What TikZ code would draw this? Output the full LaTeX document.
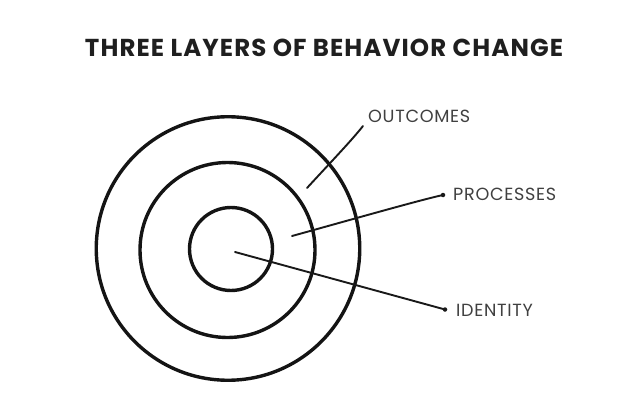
\documentclass[tikz,border=0pt]{standalone}
\usepackage{fontspec}
\setmainfont{Poppins}
\newfontfamily\titlefam{Poppins}[LetterSpace=4.5]
\newfontfamily\labelfam{Poppins}[LetterSpace=4]
\begin{document}
\begin{tikzpicture}[x=1pt,y=-1pt,
  ring/.style={circle,draw=black!92,line width=3.4pt,inner sep=0pt},
  leader/.style={draw=black!90,line width=1.9pt,line cap=round},
  enddot/.style={circle,fill=black!90,inner sep=0pt,minimum size=4.5pt},
  lbl/.style={anchor=base west,inner sep=0pt,text=black!75,font=\labelfam\fontsize{17.6}{17.6}\selectfont},
  ttl/.style={anchor=base,inner sep=0pt,text=black!88,font=\titlefam\bfseries\fontsize{24.5}{24.5}\selectfont}]
\useasboundingbox (0,0) rectangle (624,404);
\node[ttl] (title) at (324,57) {THREE LAYERS OF BEHAVIOR CHANGE};
\node[ring,minimum size=263.5pt] (outer) at (228,248.5) {};
\node[ring,minimum size=175pt] (middle) at (227.5,250) {};
\node[ring,minimum size=83pt] (inner) at (231,249) {};
\coordinate (o1) at (307,188);
\coordinate (o2) at (363,126);
\coordinate (p1) at (292,236);
\node[enddot] (pdot) at (443,195) {};
\coordinate (i1) at (235,252);
\node[enddot] (idot) at (445,309.5) {};
\node[lbl] (outcomes) at (368,122) {OUTCOMES};
\node[lbl] (processes) at (453,200) {PROCESSES};
\node[lbl] (identity) at (456,316.5) {IDENTITY};
\draw[leader] (o1) .. controls (330,163) and (352,140) .. (o2);
\draw[leader] (p1) .. controls (350,220) and (420,200) .. (pdot.center);
\draw[leader] (i1) -- (idot.center);
\end{tikzpicture}
\end{document}
